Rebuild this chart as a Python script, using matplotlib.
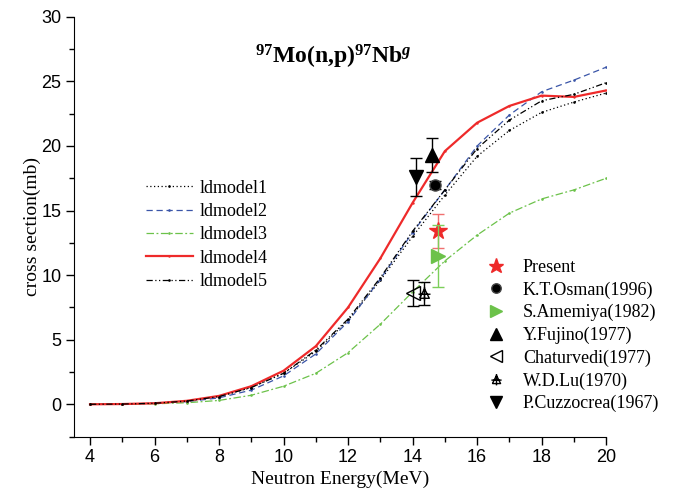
import numpy as np
import matplotlib
matplotlib.use('Agg')
from matplotlib import pyplot as plt
from matplotlib.path import Path

plt.rcParams['mathtext.fontset'] = 'custom'
plt.rcParams['mathtext.rm'] = 'Liberation Serif'
plt.rcParams['mathtext.bf'] = 'Liberation Serif:bold'
plt.rcParams['mathtext.it'] = 'Liberation Serif:italic'
plt.rcParams['mathtext.bfit'] = 'Liberation Serif:bold:italic'

# model curves (MeV, mb)
energy = [4, 5, 6, 7, 8, 9, 10, 11, 12, 13, 14, 15, 16, 17, 18, 19, 20]
ldmodel1 = [0, 0.02, 0.08, 0.25, 0.6, 1.3, 2.4, 4.1, 6.5, 9.6, 13.0, 16.2, 19.2, 21.2, 22.6, 23.4, 24.1]
ldmodel2 = [0, 0.02, 0.07, 0.2, 0.5, 1.1, 2.2, 3.9, 6.4, 9.7, 13.3, 16.6, 20.0, 22.4, 24.2, 25.1, 26.1]
ldmodel3 = [0, 0.01, 0.04, 0.12, 0.3, 0.7, 1.4, 2.4, 4.0, 6.2, 8.7, 11.1, 13.1, 14.8, 15.9, 16.6, 17.5]
ldmodel4 = [0, 0.02, 0.08, 0.27, 0.65, 1.4, 2.6, 4.5, 7.5, 11.3, 15.6, 19.6, 21.8, 23.1, 23.9, 23.8, 24.3]
ldmodel5 = [0, 0.02, 0.08, 0.25, 0.6, 1.3, 2.4, 4.2, 6.6, 9.8, 13.4, 16.6, 19.8, 22.0, 23.5, 24.0, 24.9]

# experimental points: energy, value, error
present = (14.8, 13.4, 1.3)
osman = (14.7, 17.0, 0.3)
amemiya = (14.8, 11.5, 2.4)
fujino = (14.6, 19.3, 1.3)
chaturvedi = (14.0, 8.6, 1.0)
lu = (14.36, 8.6, 0.9)
cuzzocrea = (14.1, 17.6, 1.45)

# triangle with a cross through it
lu_verts = [(-1, -1), (1, -1), (0, 1), (-1, -1),
            (0, 1.35), (0, -1.45),
            (-1.25, -0.15), (1.25, -0.15)]
lu_codes = [Path.MOVETO, Path.LINETO, Path.LINETO, Path.LINETO,
            Path.MOVETO, Path.LINETO,
            Path.MOVETO, Path.LINETO]
lu_marker = Path(lu_verts, lu_codes)

fig = plt.figure(figsize=(6.78, 4.95), dpi=100)
ax = fig.add_axes([0.109, 0.118, 0.785, 0.848])

l1, = ax.plot(energy, ldmodel1, color='black', ls=(0, (1, 2)), lw=0.9, marker='.', ms=1.8, label='ldmodel1')
l2, = ax.plot(energy, ldmodel2, color='#3a55a8', ls=(0, (5, 3)), lw=0.9, marker='.', ms=1.8, label='ldmodel2')
l3, = ax.plot(energy, ldmodel3, color='#6cc24a', ls=(0, (6, 2, 1.5, 2)), lw=0.9, marker='.', ms=1.8, label='ldmodel3')
l4, = ax.plot(energy, ldmodel4, color='#ee2a2a', ls='-', lw=1.6, marker='.', ms=1.5, label='ldmodel4')
l5, = ax.plot(energy, ldmodel5, color='black', ls=(0, (5, 2, 1, 2, 1, 2)), lw=0.9, marker='.', ms=1.8, label='ldmodel5')

def point(p, ecol, **kw):
	ax.errorbar([p[0]], [p[1]], yerr=[p[2]], fmt='none', ecolor=ecol, elinewidth=1.0, capsize=4, capthick=1.0)
	h, = ax.plot([p[0]], [p[1]], ls='none', **kw)
	return h

p1 = point(present, '#f07070', marker='*', ms=13, color='#ee2a2a', label='Present')
p2 = point(osman, 'black', marker='o', ms=8, color='black', mec='#444444', label='K.T.Osman(1996)')
p3 = point(amemiya, '#7ccf5a', marker='>', ms=10, color='#6cc24a', label='S.Amemiya(1982)')
p4 = point(fujino, 'black', marker='^', ms=10, color='black', label='Y.Fujino(1977)')
p5 = point(chaturvedi, 'black', marker='<', ms=10, color='black', mfc='none', mew=1.0, label='Chaturvedi(1977)')
p6 = point(lu, 'black', marker=lu_marker, ms=10, color='black', mfc='none', mew=1.0, label='W.D.Lu(1970)')
p7 = point(cuzzocrea, 'black', marker='v', ms=10, color='black', label='P.Cuzzocrea(1967)')

ax.set_xlim(3.5, 20)
ax.set_ylim(-2.5, 30)
ax.set_xticks(np.arange(4, 21, 2))
ax.set_xticks(np.arange(5, 20, 2), minor=True)
ax.set_yticks(np.arange(0, 31, 5))
ax.set_yticks(np.arange(-2.5, 30, 2.5), minor=True)
ax.spines['top'].set_visible(False)
ax.spines['right'].set_visible(False)
ax.tick_params(which='major', direction='out', length=6, width=1, labelsize=13, pad=3)
ax.tick_params(which='minor', direction='out', length=3.5, width=1)
for lab in ax.get_xticklabels() + ax.get_yticklabels():
	lab.set_family('Liberation Sans')

ax.set_xlabel('Neutron Energy(MeV)', family='Liberation Serif', fontsize=14, labelpad=3)
ax.set_ylabel('cross section(mb)', family='Liberation Serif', fontsize=14, labelpad=0)

ax.text(11.55, 26.9, r'$\mathbf{^{97}Mo(n{,}p)^{97}Nb}^{\mathbfit{g}}$', fontsize=17, ha='center', va='center')

fig.legend(handles=[l1, l2, l3, l4, l5], loc='upper left', bbox_to_anchor=(0.215, 0.637),
           frameon=False, prop={'family': 'Liberation Serif', 'size': 13},
           handlelength=2.6, handletextpad=0.4, labelspacing=0.35, borderaxespad=0, borderpad=0)
fig.legend(handles=[p1, p2, p3, p4, p5, p6, p7], loc='upper left', bbox_to_anchor=(0.718, 0.477),
           frameon=False, prop={'family': 'Liberation Serif', 'size': 13},
           handlelength=1.0, handletextpad=1.0, labelspacing=0.3, borderaxespad=0, borderpad=0,
           markerscale=0.85)

fig.savefig('out.png', dpi=100)
